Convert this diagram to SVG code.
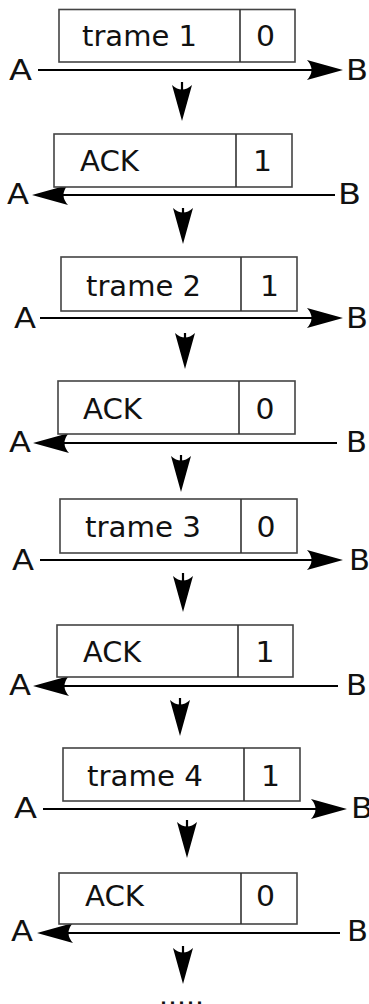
<svg xmlns="http://www.w3.org/2000/svg" xmlns:xlink="http://www.w3.org/1999/xlink" width="369" height="1004" viewBox="0 0 369 1004">
<style>
.box{fill:#fff;stroke:#444;stroke-width:1.6}
.div{stroke:#333;stroke-width:1.6}
.t{font-family:"DejaVu Sans","Liberation Sans",sans-serif;font-size:27.5px;fill:#111}
.n{text-anchor:middle}
.ln{stroke:#000;stroke-width:2.2;fill:none}
.ah{fill:#000}
</style>
<defs>
<path id="ah" class="ah" d="M0,0 L-36,-10 Q-27,0 -36,10 Z"/>
</defs>
<rect width="369" height="1004" fill="#fff"/>
<g id="connectors">
<line class="ln" x1="38" y1="70" x2="315" y2="70"/><use xlink:href="#ah" href="#ah" transform="translate(343,70)"/>
<line class="ln" x1="60" y1="195" x2="335" y2="195"/><use xlink:href="#ah" href="#ah" transform="translate(32,195) rotate(180)"/>
<line class="ln" x1="40" y1="318" x2="315" y2="318"/><use xlink:href="#ah" href="#ah" transform="translate(343,318)"/>
<line class="ln" x1="61" y1="443" x2="337" y2="443"/><use xlink:href="#ah" href="#ah" transform="translate(33,443) rotate(180)"/>
<line class="ln" x1="40" y1="560" x2="315" y2="560"/><use xlink:href="#ah" href="#ah" transform="translate(343,560)"/>
<line class="ln" x1="61" y1="686" x2="338" y2="686"/><use xlink:href="#ah" href="#ah" transform="translate(33,686) rotate(180)"/>
<line class="ln" x1="43" y1="809" x2="319" y2="809"/><use xlink:href="#ah" href="#ah" transform="translate(347,809)"/>
<line class="ln" x1="65" y1="933" x2="340" y2="933"/><use xlink:href="#ah" href="#ah" transform="translate(37,933) rotate(180)"/>
<line class="ln" x1="182" y1="82" x2="182" y2="95"/><use xlink:href="#ah" href="#ah" transform="translate(182,121) rotate(90)"/>
<line class="ln" x1="183" y1="208" x2="183" y2="220"/><use xlink:href="#ah" href="#ah" transform="translate(183,244) rotate(90)"/>
<line class="ln" x1="185" y1="333" x2="185" y2="345"/><use xlink:href="#ah" href="#ah" transform="translate(185,369) rotate(90)"/>
<line class="ln" x1="181" y1="455" x2="181" y2="467"/><use xlink:href="#ah" href="#ah" transform="translate(181,492) rotate(90)"/>
<line class="ln" x1="183" y1="573" x2="183" y2="586"/><use xlink:href="#ah" href="#ah" transform="translate(183,612) rotate(90)"/>
<line class="ln" x1="180" y1="698" x2="180" y2="710"/><use xlink:href="#ah" href="#ah" transform="translate(180,736) rotate(90)"/>
<line class="ln" x1="187" y1="820" x2="187" y2="832"/><use xlink:href="#ah" href="#ah" transform="translate(187,858) rotate(90)"/>
<line class="ln" x1="183" y1="946" x2="183" y2="958"/><use xlink:href="#ah" href="#ah" transform="translate(183,984) rotate(90)"/>
</g>
<g id="frame1">
<rect class="box" x="59" y="9.5" width="236" height="52.5"/><line class="div" x1="240" y1="9.5" x2="240" y2="62"/>
<text class="t" x="82" y="46" textLength="115" lengthAdjust="spacingAndGlyphs">trame 1</text>
<text class="t n" x="265.5" y="46" textLength="19" lengthAdjust="spacingAndGlyphs">0</text>
<text class="t" x="9" y="80" textLength="23" lengthAdjust="spacingAndGlyphs">A</text>
<text class="t" x="346" y="80" textLength="22" lengthAdjust="spacingAndGlyphs">B</text>
</g>
<g id="ack1">
<rect class="box" x="54" y="134" width="238" height="53"/><line class="div" x1="236" y1="134" x2="236" y2="187"/>
<text class="t" x="80" y="171" textLength="59" lengthAdjust="spacingAndGlyphs">ACK</text>
<text class="t n" x="262.5" y="171" textLength="19" lengthAdjust="spacingAndGlyphs">1</text>
<text class="t" x="7" y="204" textLength="22" lengthAdjust="spacingAndGlyphs">A</text>
<text class="t" x="338" y="204" textLength="23" lengthAdjust="spacingAndGlyphs">B</text>
</g>
<g id="frame2">
<rect class="box" x="61" y="257" width="236" height="54"/><line class="div" x1="241" y1="257" x2="241" y2="311"/>
<text class="t" x="86" y="296" textLength="115" lengthAdjust="spacingAndGlyphs">trame 2</text>
<text class="t n" x="269.5" y="296" textLength="19" lengthAdjust="spacingAndGlyphs">1</text>
<text class="t" x="14" y="328" textLength="22" lengthAdjust="spacingAndGlyphs">A</text>
<text class="t" x="346" y="328" textLength="22" lengthAdjust="spacingAndGlyphs">B</text>
</g>
<g id="ack2">
<rect class="box" x="58" y="381" width="237" height="53"/><line class="div" x1="239" y1="381" x2="239" y2="434"/>
<text class="t" x="83" y="419" textLength="59" lengthAdjust="spacingAndGlyphs">ACK</text>
<text class="t n" x="265" y="419" textLength="19" lengthAdjust="spacingAndGlyphs">0</text>
<text class="t" x="9" y="452" textLength="22" lengthAdjust="spacingAndGlyphs">A</text>
<text class="t" x="346" y="452" textLength="21" lengthAdjust="spacingAndGlyphs">B</text>
</g>
<g id="frame3">
<rect class="box" x="60" y="499" width="237" height="54"/><line class="div" x1="241" y1="499" x2="241" y2="553"/>
<text class="t" x="85" y="537" textLength="116" lengthAdjust="spacingAndGlyphs">trame 3</text>
<text class="t n" x="266" y="537" textLength="19" lengthAdjust="spacingAndGlyphs">0</text>
<text class="t" x="12" y="570" textLength="22" lengthAdjust="spacingAndGlyphs">A</text>
<text class="t" x="349" y="570" textLength="21" lengthAdjust="spacingAndGlyphs">B</text>
</g>
<g id="ack3">
<rect class="box" x="57" y="625" width="236" height="52"/><line class="div" x1="238" y1="625" x2="238" y2="677"/>
<text class="t" x="83" y="662" textLength="58" lengthAdjust="spacingAndGlyphs">ACK</text>
<text class="t n" x="265" y="662" textLength="19" lengthAdjust="spacingAndGlyphs">1</text>
<text class="t" x="9" y="695" textLength="22" lengthAdjust="spacingAndGlyphs">A</text>
<text class="t" x="346" y="695" textLength="21" lengthAdjust="spacingAndGlyphs">B</text>
</g>
<g id="frame4">
<rect class="box" x="63" y="748" width="237" height="53"/><line class="div" x1="244" y1="748" x2="244" y2="801"/>
<text class="t" x="87" y="786" textLength="116" lengthAdjust="spacingAndGlyphs">trame 4</text>
<text class="t n" x="270.5" y="786" textLength="19" lengthAdjust="spacingAndGlyphs">1</text>
<text class="t" x="14" y="818" textLength="23" lengthAdjust="spacingAndGlyphs">A</text>
<text class="t" x="351" y="818" textLength="22" lengthAdjust="spacingAndGlyphs">B</text>
</g>
<g id="ack4">
<rect class="box" x="59" y="873" width="238" height="51"/><line class="div" x1="241" y1="873" x2="241" y2="924"/>
<text class="t" x="85" y="906" textLength="59" lengthAdjust="spacingAndGlyphs">ACK</text>
<text class="t n" x="265.5" y="906" textLength="19" lengthAdjust="spacingAndGlyphs">0</text>
<text class="t" x="11" y="941" textLength="22" lengthAdjust="spacingAndGlyphs">A</text>
<text class="t" x="347" y="941" textLength="21" lengthAdjust="spacingAndGlyphs">B</text>
</g>
<g id="more">
<text class="t" x="159" y="1005" textLength="45" lengthAdjust="spacingAndGlyphs">.....</text>
</g>
</svg>
